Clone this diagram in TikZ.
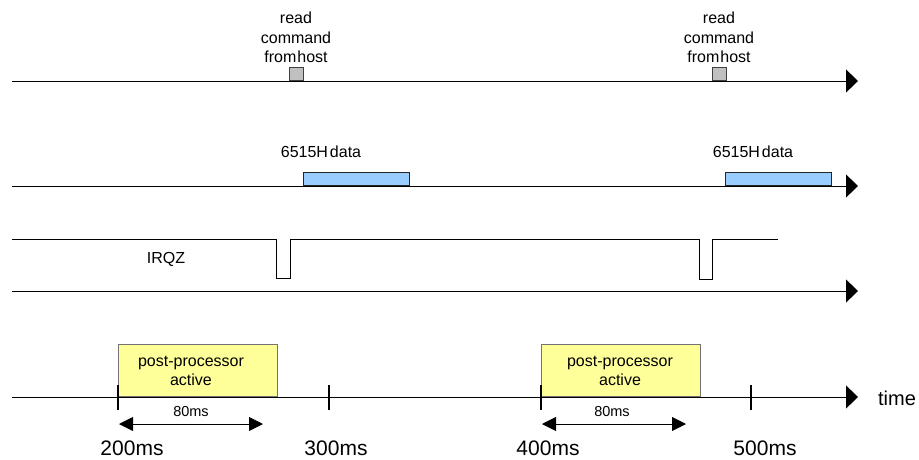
\documentclass[tikz,border=0pt]{standalone}
\usepackage{fontspec}
\setmainfont{Liberation Sans}
\usetikzlibrary{arrows.meta}
\definecolor{sqgray}{HTML}{C0C0C0}
\definecolor{datablue}{HTML}{99CCFF}
\definecolor{ppyellow}{HTML}{FFFF99}
\tikzset{
  axisline/.style={line width=0.9pt, -{Triangle[length=12pt,width=23pt]}},
  wave/.style={line width=1pt, black},
  tickmark/.style={line width=2.6pt},
  span/.style={line width=0.9pt, {Triangle[length=14pt,width=14pt]}-{Triangle[length=14pt,width=14pt]}},
  graysq/.style={draw=black!75, fill=sqgray, line width=0.8pt, minimum width=14pt, minimum height=13pt, inner sep=0pt, anchor=south west},
  databox/.style={draw=black!85, fill=datablue, line width=1pt, minimum width=106pt, minimum height=13pt, inner sep=0pt, anchor=south west},
  ppbox/.style={draw=black!55, fill=ppyellow, line width=0.8pt, minimum width=159pt, minimum height=52pt, inner sep=0pt, anchor=south west},
  small/.style={font=\fontsize{16}{19.5}\selectfont, inner sep=0pt},
  tiny/.style={font=\fontsize{14.5}{16}\selectfont, inner sep=0pt, anchor=base},
  big/.style={font=\fontsize{21}{24}\selectfont, inner sep=0pt, anchor=base},
}
\begin{document}
\begin{tikzpicture}[x=1pt,y=-1pt]
\useasboundingbox (0,0) rectangle (919,459);
% line 1
\coordinate (l1s) at (12,81);
\coordinate (l1e) at (858,81);
\draw[axisline] (l1s) -- (l1e);
\node[graysq] (sq1) at (289,81) {};
\node[graysq] (sq2) at (712,81) {};
\node[small, align=center, anchor=south] (rc1) at (296,63) {read\\command\\from\kern1pt host};
\node[small, align=center, anchor=south] (rc2) at (719,63) {read\\command\\from\kern1pt host};
% line 2
\coordinate (l2s) at (12,186);
\coordinate (l2e) at (858,186);
\draw[axisline] (l2s) -- (l2e);
\node[databox] (d1) at (303,186) {};
\node[databox] (d2) at (725,186) {};
\node[small, anchor=base] (dl1) at (321,157) {6515H\kern2pt data};
\node[small, anchor=base] (dl2) at (753,157) {6515H\kern2pt data};
% line 3 : IRQZ
\draw[wave] (12,239) -- (276,239) -- (276,278) -- (290,278) -- (290,239)
  -- (699,239) -- (699,279) -- (712,279) -- (712,239) -- (778,239);
\node[small, anchor=base] (irqz) at (166,263) {IRQZ};
\coordinate (l3s) at (12,291);
\coordinate (l3e) at (858,291);
\draw[axisline] (l3s) -- (l3e);
% line 4 : time
\node[ppbox] (pp1) at (118,397) {};
\node[ppbox] (pp2) at (541,397) {};
\node[small, align=center] (ppt1) at (191,371) {post-processor\\active};
\node[small, align=center] (ppt2) at (620,371) {post-processor\\active};
\coordinate (l4s) at (12,397);
\coordinate (l4e) at (858,397);
\draw[axisline] (l4s) -- (l4e);
\node[font=\fontsize{20}{24}\selectfont, inner sep=0pt, anchor=base] (time) at (897,405) {time};
% ticks
\foreach \n/\x in {t1/118, t2/329, t3/541, t4/751}{
  \coordinate (\n a) at (\x,385);
  \coordinate (\n b) at (\x,410);
  \draw[tickmark] (\n a) -- (\n b);
}
% 80ms spans
\coordinate (s1a) at (119,424);
\coordinate (s1b) at (263,424);
\coordinate (s2a) at (542,424);
\coordinate (s2b) at (686,424);
\draw[span] (s1a) -- (s1b);
\draw[span] (s2a) -- (s2b);
\node[tiny] (m1) at (191,416) {80ms};
\node[tiny] (m2) at (612,416) {80ms};
% time labels
\node[big] (ms200) at (132,455) {200ms};
\node[big] (ms300) at (336,455) {300ms};
\node[big] (ms400) at (548,455) {400ms};
\node[big] (ms500) at (765,455) {500ms};
\end{tikzpicture}
\end{document}
